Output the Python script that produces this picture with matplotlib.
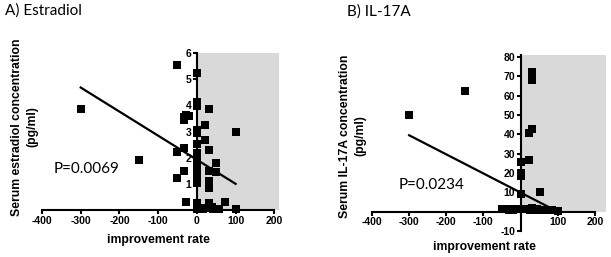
import numpy as np
import matplotlib
matplotlib.use("Agg")
import matplotlib.pyplot as plt

# panel A: estradiol vs improvement rate
estr_x = [-52, 0, -299, 0, 0, 32, -29, -21, -34, -34, 22, 0, 0, 100, 22, 0, 0, -34, 32,
          -52, -150, 50, 0, 0, -34, 32, 50, 0, 0, -52, 32, 0, 32, -27, 0, 0, 32, 73,
          22, 32, 41, 50, 58, 100, 0, 15, 40]
estr_y = [5.54, 5.24, 3.86, 4.11, 3.96, 3.86, 3.64, 3.58, 3.45, 3.55, 3.26, 3.07, 2.94, 2.98,
          2.68, 2.53, 2.17, 2.36, 2.30, 2.20, 1.92, 1.79, 1.94, 1.76, 1.49, 1.49, 1.44, 1.49,
          1.28, 1.21, 1.12, 1.02, 0.83, 0.32, 0.26, 0.12, 0.26, 0.32, 0.06, 0.10, 0.05, 0.05,
          0.05, 0.05, 0.02, 0.05, 0.10]
estr_fit_x = [-300, 100]
estr_fit_y = [4.68, 1.0]

# panel B: IL-17A vs improvement rate
il_x = [-300, -150, 32, 32, 32, 32, 24, 24, 0, 0, 0, 53, 0,
        -50, -45, -40, -35, -30, -25, -20, -15, -10, 0, 12, 18, 25, 30, 35, 40,
        45, 55, 65, 75, 85, 100]
il_y = [50, 62.5, 72, 70, 68, 42.5, 40.5, 26.5, 25.5, 20, 18.5, 10, 9,
        1.5, 1.5, 1.2, 1.5, 1.0, 1.5, 1.0, 1.5, 1.2, 1.5, 1.2, 1.5, 1.0, 2.0, 1.5, 1.0,
        1.5, 1.0, 1.0, 0.8, 0.8, 0.5]
il_fit_x = [-300, 100]
il_fit_y = [39.5, 0.0]

xticks = [-400, -300, -200, -100, 0, 100, 200]

W, H = 611, 257
fig = plt.figure(figsize=(W / 100, H / 100), dpi=100)

tickfont = dict(family="Liberation Sans", weight="bold", size=7.5)
labfont = dict(family="Liberation Sans", weight="bold", size=8.8)
txtfont = dict(family="Lato", size=11)


def style(ax, xmax, ymin, ymax, yticks, xticklabels):
    for s in ["top", "right"]:
        ax.spines[s].set_visible(False)
    ax.spines["left"].set_position(("data", 0))
    ax.spines["bottom"].set_position(("data", 0))
    ax.spines["bottom"].set_bounds(-400, 200)
    for s in ["left", "bottom"]:
        ax.spines[s].set_linewidth(1.5)
    ax.set_xlim(-400, xmax)
    ax.set_ylim(ymin, ymax)
    ax.set_xticks(xticks)
    ax.set_xticklabels(xticklabels)
    ax.set_yticks(yticks)
    ax.set_yticklabels([str(t) for t in yticks])
    ax.tick_params(length=3, width=1.5, pad=1)
    for lab in ax.get_xticklabels() + ax.get_yticklabels():
        lab.set_fontproperties(matplotlib.font_manager.FontProperties(**tickfont))
    ax.patch.set_alpha(0)


# ---- A
axA = fig.add_axes([42 / W, 47 / H, 237 / W, 157 / H])
axA.axvspan(0, 212, ymin=0, ymax=1, color="#d9d9d9", zorder=0, lw=0)
axA.scatter(estr_x, estr_y, marker="s", s=32, color="black", zorder=3, clip_on=False, lw=0)
axA.plot(estr_fit_x, estr_fit_y, color="black", lw=1.6, zorder=4)
style(axA, 212, 0, 6, [1, 2, 3, 4, 5, 6], [str(t) for t in xticks])
axA.text(-371, 1.57, "P=0.0069", va="center", ha="left", **txtfont)

# ---- B
axB = fig.add_axes([372 / W, 26 / H, 234 / W, 176 / H])
axB.fill_between([0, 230], 0, 81, color="#d9d9d9", zorder=0, lw=0)
axB.scatter(il_x, il_y, marker="s", s=32, color="black", zorder=3, clip_on=False, lw=0)
axB.plot(il_fit_x, il_fit_y, color="black", lw=1.6, zorder=4)
style(axB, 230, -10, 81, [-10, 10, 20, 30, 40, 50, 60, 70, 80],
      ["" if t == 0 else str(t) for t in xticks])
axB.text(-328, 14, "P=0.0234", va="center", ha="left", **txtfont)

# titles and axis labels
fig.text(5 / W, 1 - 11 / H, "A) Estradiol", va="center", ha="left", **txtfont)
fig.text(347 / W, 1 - 12 / H, "B) IL-17A", va="center", ha="left", **txtfont)
fig.text(158 / W, 1 - 240 / H, "improvement rate", ha="center", va="center", **labfont)
fig.text(484 / W, 1 - 247 / H, "improvement rate", ha="center", va="center", **labfont)
fig.text(24.5 / W, 1 - 127 / H, "Serum estradiol concentration\n(pg/ml)", rotation=90,
         ha="center", va="center", multialignment="center", linespacing=1.4, **labfont)
fig.text(352.5 / W, 1 - 136 / H, "Serum IL-17A concentration\n(pg/ml)", rotation=90,
         ha="center", va="center", multialignment="center", linespacing=1.4, **labfont)

fig.savefig("out.png", dpi=100)
